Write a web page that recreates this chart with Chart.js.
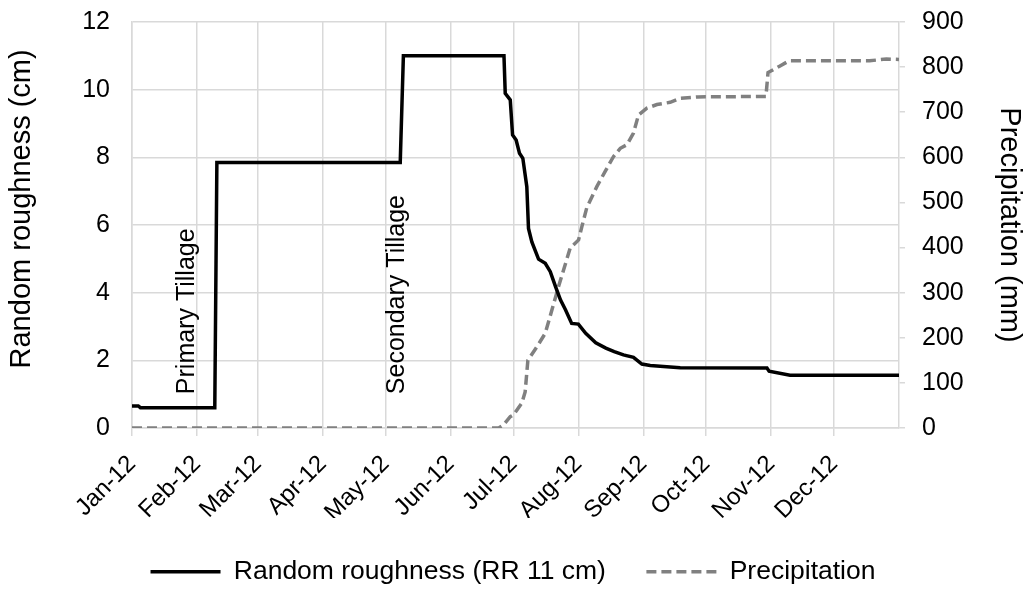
<!DOCTYPE html>
<html lang="en">
<head>
    <meta charset="UTF-8">
    <title>Random roughness and precipitation</title>
    <style>
        body {
            margin: 0;
            padding: 0;
            background-color: #fff;
        }

        .chart-container {
            width: 1026px;
            height: 592px;
        }
    </style>
</head>
<body>
<div class="chart-container">
    <canvas id="roughnessChart" width="1026" height="592"></canvas>
</div>
<script src="https://cdn.jsdelivr.net/npm/chart.js"></script>
<script>
    // Month ticks on a day-of-year axis (2012 is a leap year)
    const monthLabels = ['Jan-12', 'Feb-12', 'Mar-12', 'Apr-12', 'May-12', 'Jun-12',
        'Jul-12', 'Aug-12', 'Sep-12', 'Oct-12', 'Nov-12', 'Dec-12'];
    const monthStartDays = [0, 31, 60, 91, 121, 152, 182, 213, 244, 274, 305, 335];
    const yearEndDay = 366;

    // Random roughness (cm)
    const roughnessDays = [0, 3, 4, 39.5, 40.5, 128, 129.5, 177.5, 178.1, 180.5, 181.6, 183.3,
        184.9, 186.5, 188.4, 189.2, 190.8, 194, 197.2, 199.6, 202.1, 204.5, 206.9, 209.8,
        213, 216.5, 221.3, 226.1, 230.1, 234.5, 239.3, 243.3, 247.3, 255.2, 261.6, 303,
        304, 314, 366];
    const roughnessCm = [0.65, 0.65, 0.6, 0.6, 7.85, 7.85, 11.0, 11.0, 9.89, 9.70, 8.66, 8.51,
        8.12, 7.97, 7.13, 5.9, 5.5, 4.99, 4.87, 4.62, 4.18, 3.78, 3.49, 3.09,
        3.07, 2.80, 2.52, 2.36, 2.26, 2.16, 2.09, 1.89, 1.85, 1.81, 1.78, 1.77,
        1.68, 1.56, 1.56];

    // Cumulative precipitation (mm)
    const precipDays = [0, 175, 177.3, 180.5, 182, 186, 187.6, 188.9, 193.2, 197.2, 200.4, 203.5,
        206.7, 209.1, 213.1, 214.7, 217, 221.8, 225.8, 229.8, 233, 236.2, 239.3, 241.7,
        245.7, 250.5, 256.8, 261.6, 270, 302.5, 303.5, 309, 313.6, 352, 360, 366];
    const precipMm = [0, 0, 7, 25, 29, 55, 80, 150, 180, 210, 262, 313,
        362, 399, 417, 447, 488, 535, 569, 602, 620, 628, 654, 694,
        709, 717, 722, 731, 734, 735, 788, 802, 814, 814, 818, 817];

    // Vertical notes: [text, day, roughness at text start]
    const notes = [
        ['Primary Tillage', 29.5, 1.0],
        ['Secondary Tillage', 130, 1.0]
    ];

    const FONT = "'Liberation Sans', Arial, sans-serif";
    const GRID = '#d9d9d9';

    function toPoints(xs, ys) {
        return xs.map((x, i) => ({x: x, y: ys[i]}));
    }

    // y axes: fixed width, and no extra top/bottom padding from the tick labels
    function fixYAxis(width) {
        return (scale) => {
            scale.width = width;
            scale.paddingTop = 0;
            scale.paddingBottom = 0;
        };
    }

    // Draws the rotated tillage labels
    const notesPlugin = {
        id: 'notes',
        afterDatasetsDraw(chart) {
            const ctx = chart.ctx;
            const xs = chart.scales.x;
            const ys = chart.scales.y;
            ctx.save();
            ctx.font = '25px ' + FONT;
            ctx.fillStyle = '#000';
            ctx.textAlign = 'left';
            ctx.textBaseline = 'alphabetic';
            notes.forEach(([text, day, val]) => {
                ctx.save();
                ctx.translate(xs.getPixelForValue(day), ys.getPixelForValue(val));
                ctx.rotate(-Math.PI / 2);
                ctx.fillText(text, 0, 0);
                ctx.restore();
            });
            ctx.restore();
        }
    };

    new Chart(document.getElementById('roughnessChart').getContext('2d'), {
        type: 'line',
        data: {
            datasets: [{
                label: 'Random roughness (RR 11 cm)',
                data: toPoints(roughnessDays, roughnessCm),
                borderColor: '#000',
                backgroundColor: '#000',
                borderWidth: 3.5,
                pointRadius: 0,
                tension: 0,
                yAxisID: 'y'
            }, {
                label: 'Precipitation',
                data: toPoints(precipDays, precipMm),
                borderColor: '#808080',
                backgroundColor: '#808080',
                borderWidth: 3.5,
                borderDash: [10, 5],
                pointRadius: 0,
                tension: 0,
                yAxisID: 'y1'
            }]
        },
        options: {
            responsive: false,
            animation: false,
            layout: {
                padding: {top: 22, bottom: -3, left: 0, right: 0}
            },
            plugins: {
                tooltip: {enabled: false},
                legend: {
                    position: 'bottom',
                    labels: {
                        color: '#000',
                        font: {family: FONT, size: 26.5},
                        usePointStyle: true,
                        pointStyle: 'line',
                        pointStyleWidth: 70,
                        padding: 40.5,
                        // point-style items lose the dataset dash, put it back
                        generateLabels: (chart) => {
                            const items = Chart.defaults.plugins.legend.labels.generateLabels(chart);
                            return items.map(item => {
                                const ds = chart.data.datasets[item.datasetIndex];
                                item.lineDash = ds.borderDash || [];
                                item.lineWidth = ds.borderWidth;
                                item.strokeStyle = ds.borderColor;
                                return item;
                            });
                        }
                    }
                }
            },
            scales: {
                x: {
                    type: 'linear',
                    min: 0,
                    max: yearEndDay,
                    afterBuildTicks: (scale) => {
                        scale.ticks = monthStartDays.map(v => ({value: v}));
                    },
                    afterFit: (scale) => {
                        scale.height = 90;
                    },
                    ticks: {
                        autoSkip: false,
                        minRotation: 45,
                        maxRotation: 45,
                        color: '#000',
                        font: {family: FONT, size: 24},
                        padding: 14,
                        callback: (value) => monthLabels[monthStartDays.indexOf(value)] || ''
                    },
                    grid: {color: GRID, lineWidth: 1.5, tickLength: 8},
                    border: {color: GRID, width: 1.5}
                },
                y: {
                    position: 'left',
                    min: 0,
                    max: 12,
                    afterFit: fixYAxis(132),
                    ticks: {
                        stepSize: 2,
                        color: '#000',
                        font: {family: FONT, size: 25},
                        padding: 22
                    },
                    grid: {color: GRID, lineWidth: 1.5, drawTicks: false},
                    border: {color: GRID, width: 1.5},
                    title: {
                        display: true,
                        text: '    Random roughness (cm)',
                        color: '#000',
                        font: {family: FONT, size: 29},
                        padding: {top: 5, bottom: 0}
                    }
                },
                y1: {
                    position: 'right',
                    min: 0,
                    max: 900,
                    afterFit: fixYAxis(127),
                    ticks: {
                        stepSize: 100,
                        color: '#000',
                        font: {family: FONT, size: 25},
                        padding: 17
                    },
                    grid: {color: GRID, lineWidth: 1.5, drawOnChartArea: false, tickLength: 6},
                    border: {color: GRID, width: 1.5},
                    title: {
                        display: true,
                        text: 'Precipitation (mm)',
                        color: '#000',
                        font: {family: FONT, size: 29},
                        padding: {top: 0, bottom: 4}
                    }
                }
            }
        },
        plugins: [notesPlugin]
    });
</script>
</body>
</html>
